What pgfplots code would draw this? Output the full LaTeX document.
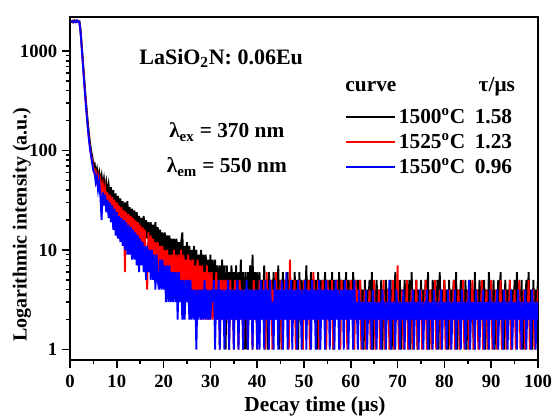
\documentclass[border=0pt]{standalone}
\usepackage{fontspec}
\setmainfont{Liberation Serif}
\usepackage{pgfplots}
\usepackage{pgfplotstable}
\pgfplotsset{compat=1.18}
\pgfplotstableread{
t b r u
0.25 1960 1990 1940
0.5 2010 1950 1990
0.75 1950 2020 1960
1.0 2030 1970 2010
1.25 1970 2000 1950
1.5 2020 1960 2030
1.75 1980 2010 1970
2.0 1990 1940 1980
2.25 1650 1600 1550
2.5 1150 1100 1080
2.75 800 760 740
3.0 560 520 500
3.25 390 360 350
3.5 280 255 245
3.75 205 185 180
4.0 155 140 135
4.25 122 110 106
4.5 100 92 88
4.75 88 80 74
5.0 72 68 62
5.25 74 58 60
5.5 60 62 48
5.75 66 50 54
6.0 52 56 40
6.25 60 44 48
6.5 48 50 34
6.75 56 40 20
7.0 44 46 38
7.25 52 34 28
7.5 40 42 36
7.75 48 30 24
8.0 37 38 32
8.25 45 27 21
8.5 34 36 30
8.75 43 25 19
9.0 31 34 28
9.25 40 22 16
9.5 29 32 26
9.75 37 20 14
10.0 27 30 24
10.25 35 18 13
10.5 25 28 22
10.75 33 17 12
11.0 24 27 21
11.25 31 15 11
11.5 22 25 20
11.75 30 6 10
12.0 21 24 19
12.25 31 14 9
12.5 20 23 18
12.75 27 13 9
13.0 19 22 17
13.25 26 12 8
13.5 18 21 16
13.75 25 11 8
14.0 17 20 15
14.25 24 10 7
14.5 16 19 14
14.75 22 9 6
15.0 15 18 13
15.25 21 8 7
15.5 14 17 12
15.75 22 8 6
16.0 14 16 11
16.25 20 7 5
16.5 13 4 11
16.75 19 15 6
17.0 12 7 10
17.25 19 14 5
17.5 12 6 10
17.75 18 13 5
18.0 11 6 9
18.25 19 12 4
18.5 11 6 9
18.75 17 12 5
19.0 10 5 4
19.25 16 11 8
19.5 10 5 4
19.75 15 11 8
20.0 9 5 4
20.25 15 10 7
20.5 9 4 3
20.75 14 10 7
21.0 8 4 3
21.25 14 9 7
21.5 8 4 3
21.75 13 9 6
22.0 8 4 3
22.25 13 10 6
22.5 7 4 3
22.75 13 9 6
23.0 7 3 2
23.25 12 9 6
23.5 7 3 3
23.75 12 10 5
24.0 15 3 2
24.25 7 9 5
24.5 11 3 2
24.75 6 8 5
25.0 12 3 3
25.25 6 9 5
25.5 11 3 2
25.75 6 8 5
26.0 10 3 2
26.25 5 8 4
26.5 11 3 2
26.75 5 7 4
27.0 10 3 1
27.25 5 8 4
27.5 9 3 2
27.75 5 7 4
28.0 10 2 2
28.25 4 7 4
28.5 9 2 2
28.75 4 6 5
29.0 9 2 2
29.25 4 7 4
29.5 8 2 2
29.75 4 6 4
30.0 9 2 2
30.25 4 6 4
30.5 8 2 3
30.75 4 5 5
31.0 8 2 1
31.25 4 6 4
31.5 7 2 2
31.75 3 5 5
32.0 7 1 1
32.25 3 5 4
32.5 8 2 2
32.75 3 5 4
33.0 7 2 1
33.25 1 5 4
33.5 7 2 2
33.75 3 5 5
34.0 6 1 1
34.25 3 5 4
34.5 7 2 2
34.75 3 4 4
35.0 6 1 1
35.25 3 5 4
35.5 7 2 2
35.75 2 4 5
36.0 6 1 1
36.25 3 5 4
36.5 8 2 2
36.75 2 4 4
37.0 6 1 1
37.25 1 4 4
37.5 6 2 2
37.75 1 4 5
38.0 6 1 1
38.25 3 4 4
38.5 7 2 2
38.75 2 4 4
39.0 9 1 1
39.25 3 5 4
39.5 6 2 2
39.75 2 4 4
40.0 6 1 1
40.25 3 2 4
40.5 6 5 1
40.75 2 3 5
41.0 5 4 2
41.25 3 2 4
41.5 7 5 1
41.75 2 1 5
42.0 5 6 2
42.25 1 3 4
42.5 6 4 1
42.75 3 2 5
43.0 5 5 2
43.25 2 1 3
43.5 6 4 1
43.75 3 2 5
44.0 5 6 2
44.25 2 3 4
44.5 7 4 1
44.75 1 2 4
45.0 5 5 2
45.25 3 1 5
45.5 6 4 1
45.75 2 3 4
46.0 5 5 2
46.25 3 2 6
46.5 6 4 1
46.75 2 1 4
47.0 5 8 2
47.25 3 2 5
47.5 5 4 1
47.75 2 3 4
48.0 6 5 2
48.25 3 1 4
48.5 5 4 1
48.75 1 2 5
49.0 6 5 2
49.25 3 3 4
49.5 5 4 1
49.75 2 1 4
50.0 5 5 2
50.25 3 2 5
50.5 7 4 1
50.75 2 3 4
51.0 5 5 2
51.25 3 1 4
51.5 6 4 1
51.75 2 2 5
52.0 5 6 2
52.25 3 3 4
52.5 5 4 1
52.75 1 2 4
53.0 6 5 2
53.25 3 1 5
53.5 5 4 1
53.75 2 3 4
54.0 5 5 2
54.25 3 2 4
54.5 6 4 1
54.75 2 1 5
55.0 5 5 2
55.25 3 3 4
55.5 5 4 1
55.75 2 2 4
56.0 6 5 2
56.25 1 1 4
56.5 5 4 1
56.75 3 3 5
57.0 5 5 2
57.25 2 2 4
57.5 6 4 1
57.75 3 1 4
58.0 5 5 2
58.25 2 3 4
58.5 5 4 1
58.75 3 2 5
59.0 6 5 2
59.25 2 1 4
59.5 5 4 1
59.75 3 3 4
60.0 5 5 2
60.25 2 2 4
60.5 6 4 1
60.75 3 1 5
61.0 5 5 2
61.25 2 3 3
61.5 5 4 1
61.75 3 2 4
62.0 5 5 2
62.25 2 1 3
62.5 4 3 1
62.75 1 2 3
63.0 5 4 2
63.25 2 1 4
63.5 4 3 1
63.75 3 2 3
64.0 5 4 2
64.25 2 1 3
64.5 6 3 1
64.75 1 2 4
65.0 4 5 2
65.25 2 1 3
65.5 5 3 1
65.75 3 2 3
66.0 4 4 2
66.25 2 1 3
66.5 5 3 1
66.75 1 2 4
67.0 4 5 2
67.25 2 1 3
67.5 5 3 1
67.75 3 2 3
68.0 4 4 2
68.25 2 1 5
68.5 5 3 1
68.75 1 2 3
69.0 4 5 2
69.25 2 1 3
69.5 6 3 1
69.75 3 2 4
70.0 4 7 2
70.25 2 1 3
70.5 5 3 1
70.75 1 2 3
71.0 4 4 2
71.25 2 1 4
71.5 5 3 1
71.75 3 2 3
72.0 4 5 2
72.25 2 1 3
72.5 5 3 1
72.75 1 2 3
73.0 6 4 2
73.25 2 1 4
73.5 4 3 1
73.75 3 2 3
74.0 5 5 2
74.25 1 1 3
74.5 4 3 1
74.75 2 2 4
75.0 5 4 2
75.25 2 1 3
75.5 4 3 1
75.75 3 2 3
76.0 5 5 2
76.25 2 1 4
76.5 6 3 1
76.75 1 2 3
77.0 4 4 2
77.25 2 1 3
77.5 5 3 1
77.75 3 2 4
78.0 4 5 2
78.25 2 1 3
78.5 5 3 1
78.75 1 2 3
79.0 6 4 2
79.25 2 1 4
79.5 4 3 1
79.75 3 2 3
80.0 5 5 2
80.25 2 1 3
80.5 4 3 1
80.75 1 2 4
81.0 5 4 2
81.25 2 1 3
81.5 4 3 1
81.75 3 2 3
82.0 5 5 2
82.25 2 1 4
82.5 6 3 1
82.75 1 2 3
83.0 4 4 2
83.25 2 1 3
83.5 5 3 1
83.75 3 2 4
84.0 4 5 2
84.25 2 1 3
84.5 5 3 1
84.75 1 2 3
85.0 4 4 2
85.25 2 1 5
85.5 5 3 1
85.75 3 2 3
86.0 4 5 2
86.25 1 1 3
86.5 6 3 1
86.75 2 2 4
87.0 4 4 2
87.25 2 1 3
87.5 5 3 1
87.75 3 2 3
88.0 4 5 2
88.25 2 1 4
88.5 5 3 1
88.75 1 2 3
89.0 4 4 2
89.25 2 1 3
89.5 6 3 1
89.75 3 2 4
90.0 4 5 2
90.25 2 1 3
90.5 5 3 1
90.75 1 2 3
91.0 4 4 2
91.25 2 1 4
91.5 5 3 1
91.75 3 2 3
92.0 6 5 2
92.25 2 1 3
92.5 4 3 1
92.75 1 2 4
93.0 5 4 2
93.25 2 1 3
93.5 4 3 1
93.75 3 2 3
94.0 5 5 2
94.25 1 1 4
94.5 4 3 1
94.75 2 2 3
95.0 5 4 2
95.25 2 1 3
95.5 6 3 1
95.75 3 2 4
96.0 4 5 2
96.25 2 1 3
96.5 5 3 1
96.75 1 2 3
97.0 4 4 2
97.25 2 1 4
97.5 5 3 1
97.75 3 2 3
98.0 6 5 2
98.25 2 1 3
98.5 4 3 1
98.75 1 2 4
99.0 5 4 2
99.25 2 1 3
99.5 4 3 1
99.75 3 2 3
100.0 5 4 2
}\decay

\begin{document}
\begin{tikzpicture}
\useasboundingbox (-52.5pt,-42pt) rectangle (361.5pt,269.75pt);
\begin{axis}[
  at={(0pt,0pt)}, anchor=south west,
  scale only axis,
  width=351pt, height=257pt,
  xmin=0, xmax=100,
  ymode=log, ymin=0.79, ymax=2200,
  xtick={0,10,...,100},
  minor x tick num=1,
  ytick={1,10,100,1000},
  yticklabels={1,10,100,1000},
  tick align=outside,
  xtick pos=lower, ytick pos=left,
  major tick length=6pt, minor tick length=3pt,
  every tick/.style={black, line width=1.2pt},
  axis line style={line width=1.5pt},
  /pgf/number format/assume math mode=true,
  tick label style={font=\fontsize{14}{16}\selectfont\bfseries},
  yticklabel style={xshift=0pt},
  xticklabel style={inner sep=0.5pt, yshift=-5pt},
  xlabel={Decay time (μs)},
  ylabel={Logarithmic intensity (a.u.)},
  xlabel style={font=\fontsize{16}{19}\selectfont\bfseries, inner sep=0pt, at={(axis description cs:0.5235,-0.137)}, anchor=center},
  ylabel style={font=\fontsize{15}{18}\selectfont\bfseries, at={(axis description cs:-0.1026,0.394)}, anchor=center, rotate=0},
  clip=true,
  legend style={draw=none, fill=none, at={(axis description cs:0.587,0.743)}, anchor=north west,
    font=\fontsize{16}{18}\selectfont\bfseries, row sep=1.7pt, inner sep=0pt},
  legend cell align=left,
  legend image code/.code={\draw[#1, line width=1.5pt] (0pt,0pt) -- (37pt,0pt);},
]
\addplot[black, line width=1.4pt] table[x=t, y=b] {\decay};
\addplot[red, line width=1.4pt] table[x=t, y=r] {\decay};
\addplot[blue, line width=1.4pt] table[x=t, y=u] {\decay};
\legend{1500\textsuperscript{o}C\hspace{0.45em}1.58, 1525\textsuperscript{o}C\hspace{0.45em}1.23, 1550\textsuperscript{o}C\hspace{0.45em}0.96}
\node[font=\fontsize{16.5}{18}\selectfont\bfseries] at (axis description cs:0.323,0.88) {LaSiO\textsubscript{2}N: 0.06Eu};
\node[font=\fontsize{16}{18}\selectfont\bfseries] at (axis description cs:0.335,0.664) {λ\textsubscript{ex} = 370 nm};
\node[font=\fontsize{16}{18}\selectfont\bfseries] at (axis description cs:0.335,0.562) {λ\textsubscript{em} = 550 nm};
\node[font=\fontsize{16}{18}\selectfont\bfseries] at (axis description cs:0.643,0.796) {curve};
\node[font=\fontsize{16}{18}\selectfont\bfseries] at (axis description cs:0.912,0.796) {τ/μs};
\end{axis}
\end{tikzpicture}
\end{document}
